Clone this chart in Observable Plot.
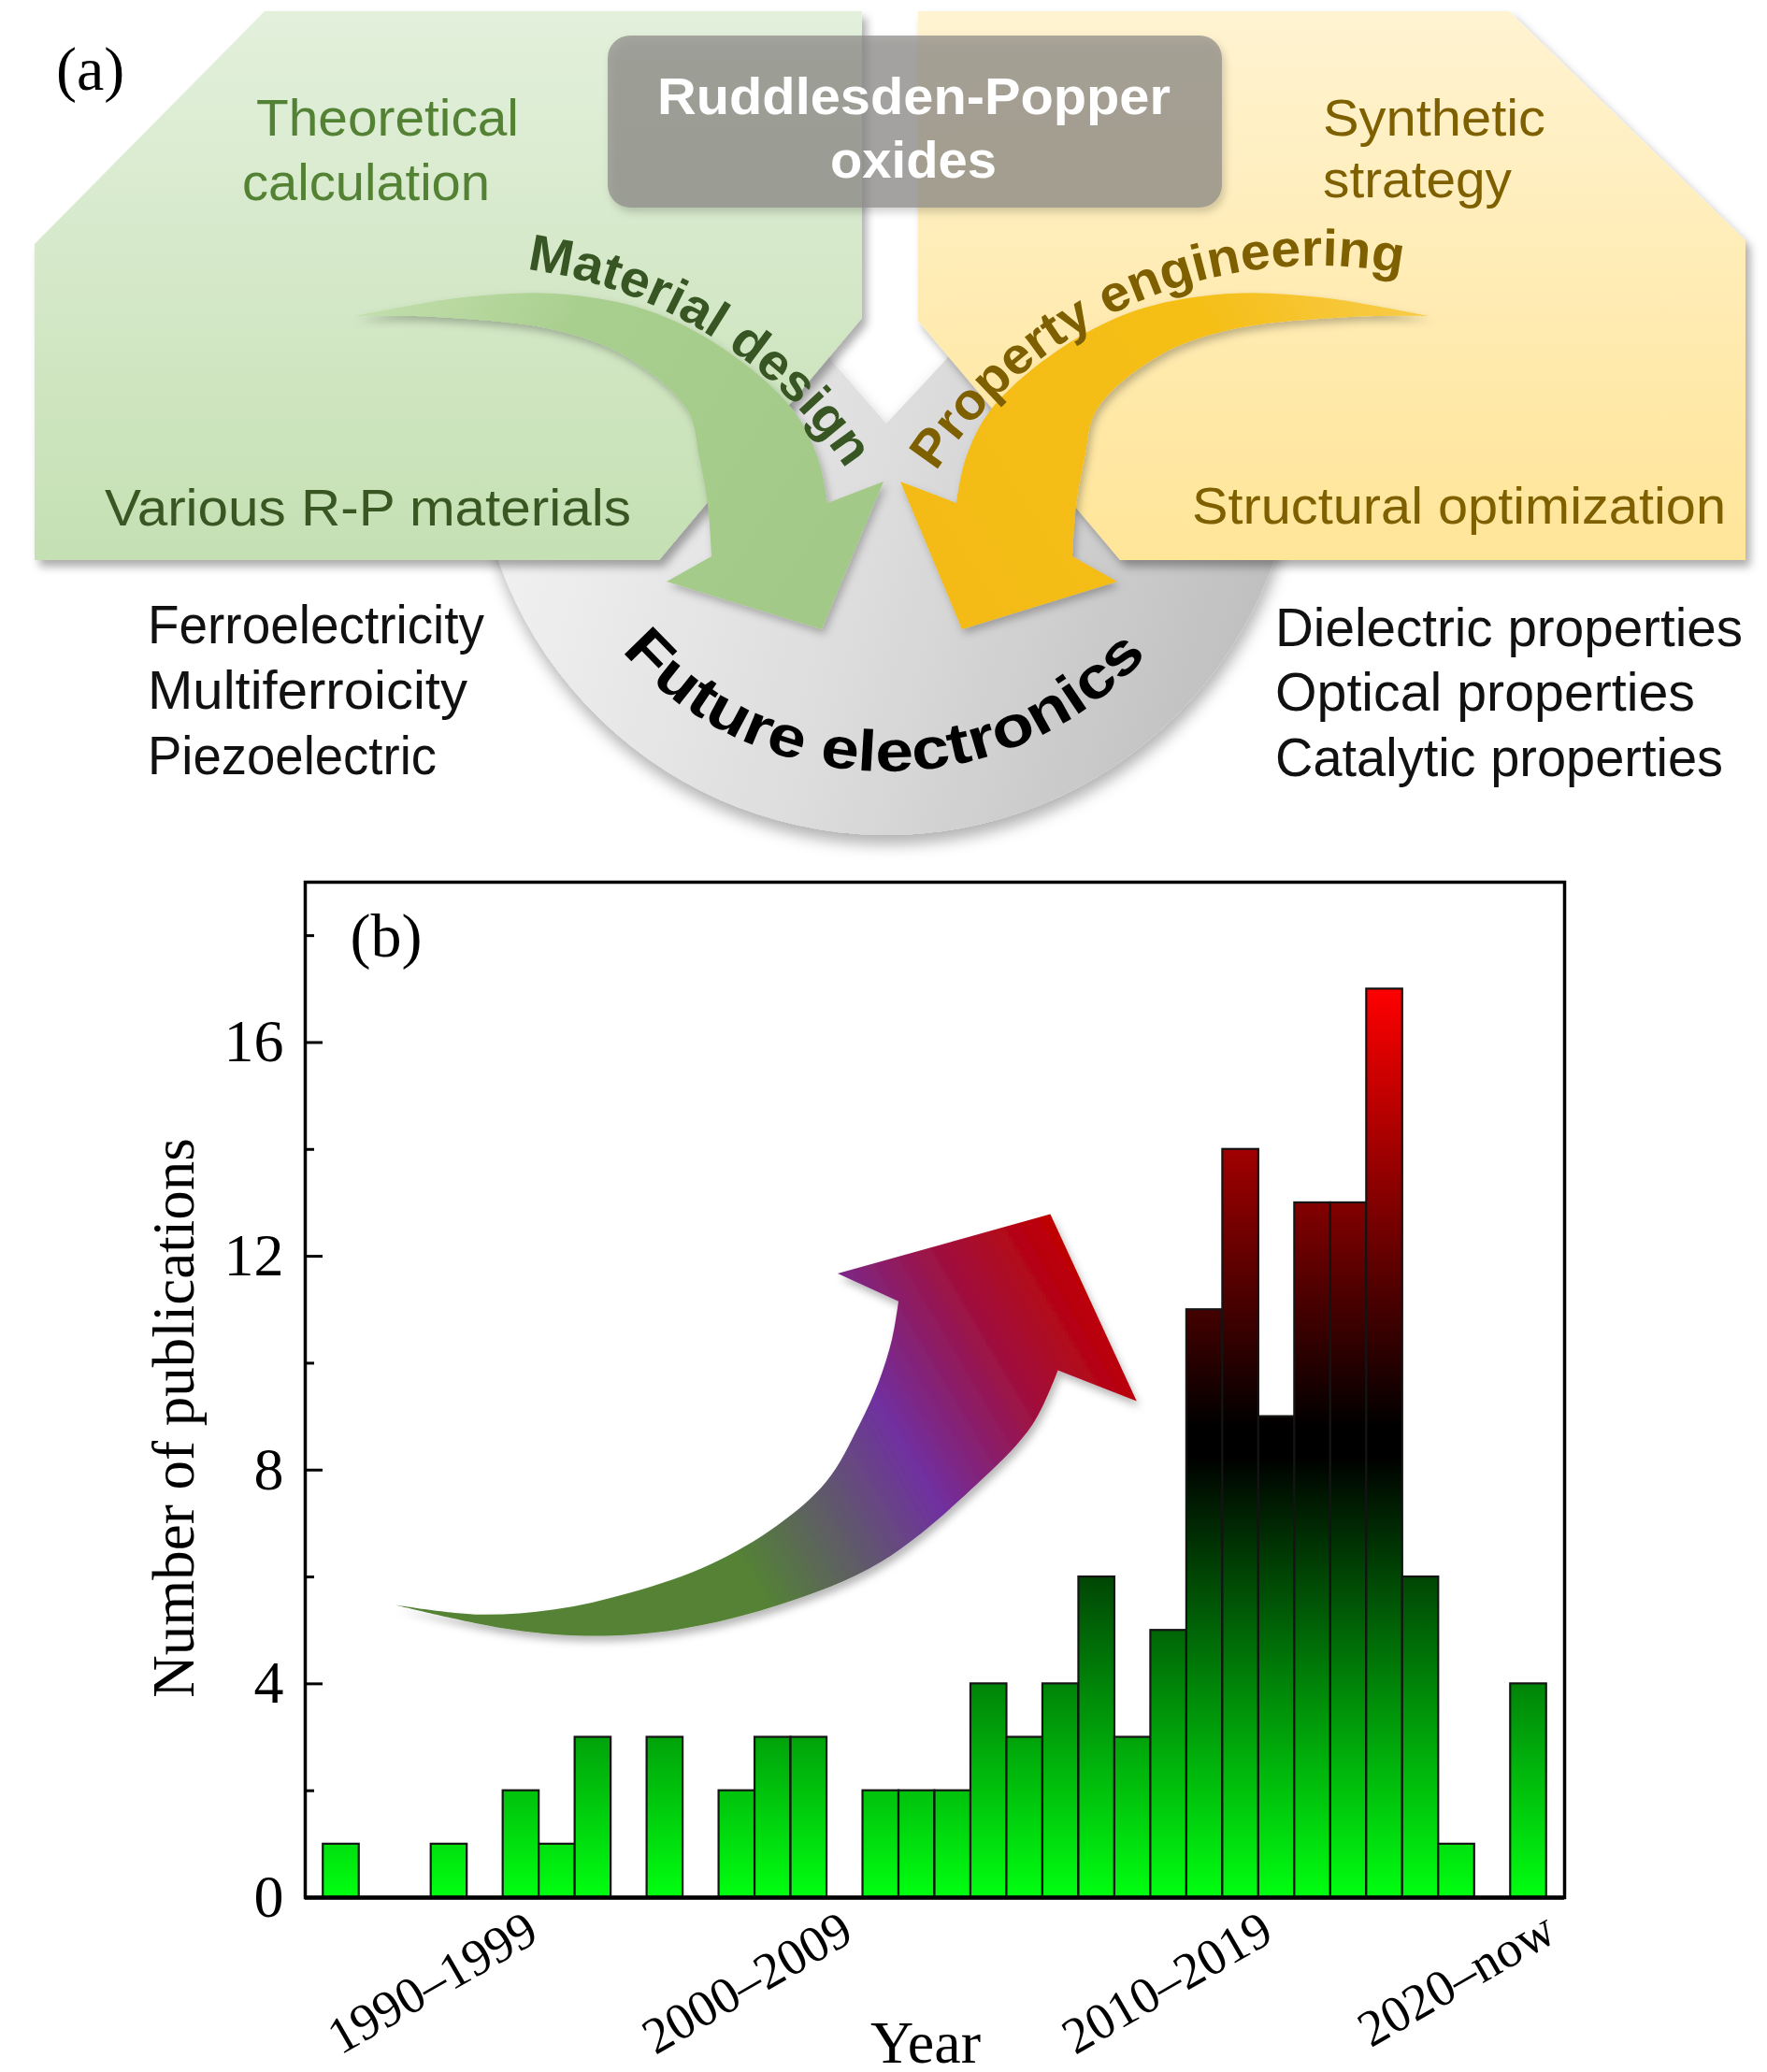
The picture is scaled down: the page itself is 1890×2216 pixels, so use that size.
<!DOCTYPE html>
<html>
<head>
<meta charset="utf-8">
<script src="https://cdn.jsdelivr.net/npm/d3@7"></script>
<script src="https://cdn.jsdelivr.net/npm/@observablehq/plot@0.6"></script>
<style>
  html, body { margin: 0; padding: 0; background: #fff; }
  svg { display: block; }
</style>
</head>
<body>
<div id="root"></div>
<script>
// ---------------- data for panel (b) ----------------
const slotIndex = d3.range(34);
const publications = [1,0,0,1,0,2,1,3,0,3,0,2,3,3,0,2,2,2,4,3,4,6,3,5,11,14,9,13,13,17,6,1,0,4];
const decadeLabels = ["1990–1999", "2000–2009", "2010–2019", "2020–now"];
const decadeLabelAt = [6.05, 14.8, 26.47, 34.34];
const yMajorTicks = [0, 4, 8, 12, 16];
const yMinorTicks = [2, 6, 10, 14, 18];

// decorative trend arrow outline (in slot / count units)
const trendArrowOuter = [[1.99,5.47],[4.94,5.04],[7.34,4.89],[9.87,5.01],[12.69,5.47],[15.51,6.27],[18.31,7.81],[19.73,8.85],[20.43,9.86]];
const trendArrowHead  = [[22.62,9.28],[20.22,12.78],[14.31,11.67],[16.0,11.15]];
const trendArrowInner = [[16.0,11.15],[15.82,10.44],[15.45,9.64],[14.92,8.85],[14.0,7.78],[12.62,6.95],[10.75,6.22],[8.56,5.70],[6.40,5.38],[4.24,5.29],[1.99,5.47]];

const W = 1890, TOP_H = 920, CHART_H = 1296;
const sans = "'Liberation Sans', Arial, Helvetica, sans-serif";
const serif = "'Liberation Serif', 'Times New Roman', Times, serif";
const smooth = d3.line().curve(d3.curveCatmullRom.alpha(0.5));
function arrowD(upper, head, lower, f = p => p) {
  const u = upper.map(f), h = head.map(f), l = lower.map(f);
  return smooth(u) + h.map(p => `L${p[0]},${p[1]}`).join("") + smooth(l).replace(/^M/, "L") + "Z";
}
function arcPath(cx, cy, r, a0, a1, sweep) {
  const rad = Math.PI / 180;
  const x0 = cx + r * Math.cos(a0 * rad), y0 = cy + r * Math.sin(a0 * rad);
  const x1 = cx + r * Math.cos(a1 * rad), y1 = cy + r * Math.sin(a1 * rad);
  const large = Math.abs(a1 - a0) > 180 ? 1 : 0;
  return `M${x0},${y0} A${r},${r} 0 ${large} ${sweep} ${x1},${y1}`;
}

// ---------------- panel (a): schematic ----------------
const A = d3.create("svg").attr("width", W).attr("height", TOP_H).attr("font-family", sans);
const defs = A.append("defs");
function shadow(id, dx, dy, sd, op) {
  const f = defs.append("filter").attr("id", id).attr("x", "-20%").attr("y", "-20%").attr("width", "140%").attr("height", "140%");
  f.append("feDropShadow").attr("dx", dx).attr("dy", dy).attr("stdDeviation", sd).attr("flood-color", "#000").attr("flood-opacity", op);
}
shadow("shPanel", 5, 7, 5, 0.32);
shadow("shDisk", 2, 10, 8, 0.3);
shadow("shArrow", 3, 5, 4, 0.25);
function lin(id, x1, y1, x2, y2, stops, units) {
  const g = defs.append("linearGradient").attr("id", id).attr("x1", x1).attr("y1", y1).attr("x2", x2).attr("y2", y2);
  if (units) g.attr("gradientUnits", units);
  stops.forEach(([o, c]) => g.append("stop").attr("offset", o).attr("stop-color", c));
}
lin("gPanel", 0, 0, 0, 1, [[0, "#e3f0dc"], [1, "#c5e0b3"]]);
lin("yPanel", 0, 0, 0, 1, [[0, "#fff3d1"], [1, "#ffe598"]]);
lin("diskG", 508, 450, 1388, 700, [[0, "#f4f4f4"], [0.5, "#dcdcdc"], [1, "#bcbcbc"]], "userSpaceOnUse");
lin("gArrow", 380, 330, 880, 640, [[0, "#c3dfae"], [0.35, "#a9cf8e"], [1, "#a3c988"]], "userSpaceOnUse");
lin("yArrow", 1528, 330, 1028, 640, [[0, "#f8cc4a"], [0.35, "#f5bf18"], [1, "#f4bb12"]], "userSpaceOnUse");

// gray disk sector
const pt = a => [948 + 440 * Math.cos(a * Math.PI / 180), 453 + 440 * Math.sin(a * Math.PI / 180)];
A.append("path")
  .attr("d", `M948,453 L${pt(-47)} A440,440 0 1 1 ${pt(229)} Z`)
  .attr("fill", "url(#diskG)").attr("filter", "url(#shDisk)");

// panels
A.append("polygon").attr("points", [[283,12],[922,12],[922,340],[705,599],[37,599],[37,261]].join(" "))
  .attr("fill", "url(#gPanel)").attr("filter", "url(#shPanel)");
A.append("polygon").attr("points", [[982,12],[1614,12],[1867,257],[1867,599],[1198,599],[982,343]].join(" "))
  .attr("fill", "url(#yPanel)").attr("filter", "url(#shPanel)");

// header box
A.append("rect").attr("x", 650).attr("y", 38).attr("width", 657).attr("height", 184).attr("rx", 24)
  .attr("fill", "rgb(138,136,133)").attr("fill-opacity", 0.7).attr("filter", "url(#shArrow)");
A.append("text").attr("x", 703).attr("y", 122).attr("font-size", 56).attr("font-weight", "bold").attr("fill", "#fff")
  .attr("textLength", 549).attr("lengthAdjust", "spacingAndGlyphs").text("Ruddlesden-Popper");
A.append("text").attr("x", 888).attr("y", 190).attr("font-size", 56).attr("font-weight", "bold").attr("fill", "#fff")
  .attr("textLength", 178).attr("lengthAdjust", "spacingAndGlyphs").text("oxides");

// curved arrows
const gUpper = [[380,338],[495,318],[594,314],[693,332],[777,375],[848,438],[875,490],[885,538]];
const gHead = [[945,515],[879,673],[713,622],[761,595]];
const gLower = [[761,595],[757,540],[748,490],[735,438],[671,382],[594,353],[466,339],[380,338]];
A.append("path").attr("d", arrowD(gUpper, gHead, gLower)).attr("fill", "url(#gArrow)").attr("filter", "url(#shArrow)");
A.append("path").attr("d", arrowD(gUpper, gHead, gLower, p => [1908 - p[0], p[1]])).attr("fill", "url(#yArrow)").attr("filter", "url(#shArrow)");

// curved labels
defs.append("path").attr("id", "arcMat").attr("d", arcPath(499.5, 771, 487, -82.5, -33.5, 1));
defs.append("path").attr("id", "arcProp").attr("d", arcPath(1408.5, 771, 487, -146.8, -79.2, 1));
defs.append("path").attr("id", "arcFut").attr("d", arcPath(948, 450, 375, 139, 41.9, 0));
function curved(id, txt, len, size, color) {
  A.append("text").attr("font-size", size).attr("font-weight", "bold").attr("fill", color)
    .append("textPath").attr("href", "#" + id).attr("textLength", len).attr("lengthAdjust", "spacingAndGlyphs").text(txt);
}
curved("arcMat", "Material design", 416, 55, "#375623");
curved("arcProp", "Property engineering", 574, 55, "#7f6000");
curved("arcFut", "Future electronics", 635, 62, "#000");

// panel texts
function label(txt, x, y, len, size, color, weight) {
  A.append("text").attr("x", x).attr("y", y).attr("font-size", size).attr("fill", color)
    .attr("font-weight", weight || "normal")
    .attr("textLength", len).attr("lengthAdjust", "spacingAndGlyphs").text(txt);
}
label("Theoretical", 274, 145, 281, 56, "#548235");
label("calculation", 259, 214, 265, 56, "#548235");
label("Various R-P materials", 112, 562, 563, 56, "#385723");
label("Synthetic", 1415, 145, 238, 56, "#7f6000");
label("strategy", 1415, 211, 202, 56, "#7f6000");
label("Structural optimization", 1275, 560, 571, 56, "#7f6000");

label("Ferroelectricity", 158, 688, 360, 57, "#111");
label("Multiferroicity", 158, 758, 342, 57, "#111");
label("Piezoelectric", 158, 828, 309, 57, "#111");
label("Dielectric properties", 1364, 691, 500, 57, "#111");
label("Optical properties", 1364, 760, 449, 57, "#111");
label("Catalytic properties", 1364, 830, 479, 57, "#111");

A.append("text").attr("x", 60).attr("y", 96).attr("font-family", serif).attr("font-size", 66).attr("fill", "#000").text("(a)");

document.getElementById("root").append(A.node());

// ---------------- panel (b): bar chart with Plot ----------------
const table = slotIndex.map(i => ({slot: i, count: publications[i]})).filter(d => d.count > 0);
const frameWidth = W - 326 - 217;

const chart = Plot.plot({
  width: W,
  height: CHART_H,
  marginTop: 23, marginRight: 217, marginBottom: 187, marginLeft: 326,
  x: {domain: [-0.5, 34.5], axis: null},
  y: {domain: [0, 19], axis: null},
  style: {fontFamily: serif, fontSize: "60px", background: "#fff", color: "#000", overflow: "visible"},
  marks: [
    Plot.rectY(table, {x1: "slot", x2: d => d.slot + 1, y1: 0, y2: "count", fill: "url(#barGradient)", stroke: "#141414", strokeWidth: 2.2}),
    Plot.ruleY(yMajorTicks, {insetRight: frameWidth - 19, stroke: "#000", strokeWidth: 3}),
    Plot.ruleY(yMinorTicks, {insetRight: frameWidth - 10, stroke: "#000", strokeWidth: 3}),
    Plot.frame({stroke: "#000", strokeWidth: 3.5}),
    Plot.ruleY([0], {stroke: "#000", strokeWidth: 4.5}),
    Plot.text(yMajorTicks, {y: d => d, text: d => String(d), frameAnchor: "left", textAnchor: "end", dx: -23, fontSize: 64}),
    Plot.text(decadeLabels, {x: (d, i) => decadeLabelAt[i], text: d => d, frameAnchor: "bottom", textAnchor: "end", lineAnchor: "bottom", rotate: -30, dy: 45, fontSize: 55}),
    Plot.text(["Year"], {text: d => d, frameAnchor: "bottom", lineAnchor: "bottom", dx: -10, dy: 176, fontSize: 64}),
    Plot.text(["Number of publications"], {text: d => d, frameAnchor: "left", textAnchor: "middle", rotate: -90, dx: -140, dy: 30, fontSize: 63}),
    Plot.text(["(b)"], {text: d => d, frameAnchor: "top-left", textAnchor: "start", lineAnchor: "bottom", dx: 48, dy: 79, fontSize: 66})
  ]
});

const cs = d3.select(chart);
const xS = chart.scale("x"), yS = chart.scale("y");
const cdefs = cs.insert("defs", ":first-child");
const bg = cdefs.append("linearGradient").attr("id", "barGradient").attr("gradientUnits", "userSpaceOnUse")
  .attr("x1", 0).attr("x2", 0).attr("y1", yS.apply(0)).attr("y2", yS.apply(17));
[[0, "#00ff10"], [8.24 / 17, "#000000"], [8.79 / 17, "#000000"], [1, "#ff0000"]]
  .forEach(([o, c]) => bg.append("stop").attr("offset", o).attr("stop-color", c));

const toPx = p => [xS.apply(p[0]), yS.apply(p[1])];
const tail = toPx(trendArrowOuter[0]), tip = toPx(trendArrowHead[1]);
const ag = cdefs.append("linearGradient").attr("id", "trendGradient").attr("gradientUnits", "userSpaceOnUse")
  .attr("x1", tail[0]).attr("y1", tail[1]).attr("x2", tip[0]).attr("y2", tip[1]);
[[0, "#548235"], [0.42, "#548235"], [0.55, "#5f5b68"], [0.68, "#7030a0"], [0.85, "#a0103e"], [1, "#c00000"]]
  .forEach(([o, c]) => ag.append("stop").attr("offset", o).attr("stop-color", c));
const cf = cdefs.append("filter").attr("id", "shTrend").attr("x", "-20%").attr("y", "-20%").attr("width", "140%").attr("height", "140%");
cf.append("feDropShadow").attr("dx", 3).attr("dy", 6).attr("stdDeviation", 4).attr("flood-color", "#000").attr("flood-opacity", 0.28);

cs.insert("path", () => chart.querySelector('[aria-label="rect"]'))
  .attr("d", arrowD(trendArrowOuter, trendArrowHead, trendArrowInner, toPx))
  .attr("fill", "url(#trendGradient)").attr("filter", "url(#shTrend)");

document.getElementById("root").append(chart);
</script>
</body>
</html>
